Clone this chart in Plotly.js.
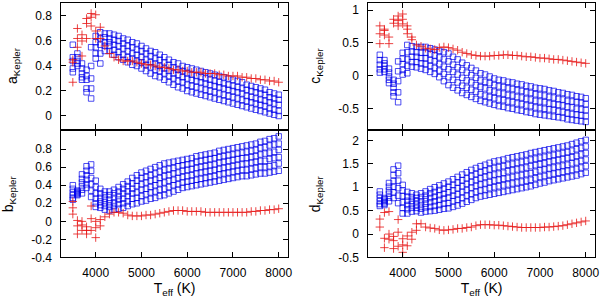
<!DOCTYPE html>
<html>
<head>
<meta charset="utf-8">
<script src="https://cdn.plot.ly/plotly-3.0.1.min.js"></script>
<style>html,body{margin:0;padding:0;background:#fff;}#chart{width:600px;height:298px;}</style>
</head>
<body>
<div id="chart"></div>
<script>
// Effective temperature grid (K)
const teff = [3500,3600,3700,3800,3900,4000,4100,4200,4300,4400,4500,4600,4700,4800,4900,5000,5100,5200,5300,5400,5500,5600,5700,5800,5900,6000,6100,6200,6300,6400,6500,6600,6700,6800,6900,7000,7100,7200,7300,7400,7500,7600,7700,7800,7900,8000];

// Blue squares: several model rows per coefficient (top to bottom)
const blueA = [
 [.57,.50,.42,.37,.55,.64,.67,.66,.66,.65,.64,.62,.61,.59,.58,.56,.54,.52,.51,.49,.47,.45,.43,.42,.40,.39,.38,.37,.36,.35,.34,.33,.32,.31,.30,.29,.28,.27,.25,.24,.23,.22,.21,.19,.18,.17],
 [.47,.47,.38,.32,.40,.59,.62,.63,.62,.61,.60,.58,.56,.55,.53,.52,.50,.48,.46,.45,.43,.41,.39,.37,.36,.34,.33,.32,.31,.30,.29,.28,.27,.26,.25,.24,.23,.22,.21,.20,.19,.18,.17,.15,.14,.13],
 [.44,.44,.34,.29,.30,.55,.57,.59,.59,.57,.56,.54,.52,.50,.49,.47,.45,.43,.42,.40,.38,.36,.34,.33,.31,.30,.29,.28,.27,.26,.25,.24,.23,.22,.21,.20,.19,.18,.16,.15,.14,.13,.12,.11,.10,.09],
 [.38,.42,.31,.22,.22,.50,.50,.56,.56,.53,.51,.49,.47,.46,.44,.43,.41,.39,.37,.36,.34,.32,.30,.28,.27,.25,.24,.23,.22,.21,.20,.19,.18,.17,.16,.15,.14,.13,.12,.11,.10,.09,.08,.06,.05,.04],
 [.35,.40,.29,.19,.14,.46,.42,.52,.52,.49,.47,.45,.43,.41,.40,.38,.36,.34,.32,.31,.29,.27,.25,.23,.22,.20,.19,.18,.17,.16,.15,.14,.13,.12,.11,.10,.09,.08,.07,.06,.05,.04,.03,.02,.01,.00]
];
const blueB = [
 [.40,.34,.52,.61,.63,.45,.36,.33,.33,.35,.38,.41,.44,.48,.51,.54,.56,.58,.60,.62,.64,.65,.66,.67,.68,.69,.70,.72,.73,.74,.75,.76,.78,.79,.80,.81,.82,.83,.84,.85,.86,.88,.89,.91,.92,.94],
 [.36,.33,.47,.56,.56,.38,.31,.29,.29,.31,.33,.36,.39,.42,.45,.48,.49,.51,.53,.55,.57,.58,.59,.61,.62,.63,.64,.66,.67,.68,.69,.70,.71,.72,.73,.74,.75,.76,.77,.78,.79,.81,.82,.84,.85,.86],
 [.32,.32,.43,.51,.48,.31,.26,.25,.24,.26,.28,.31,.33,.36,.39,.41,.43,.45,.46,.48,.50,.51,.53,.54,.56,.57,.58,.59,.60,.61,.62,.63,.65,.66,.67,.68,.69,.70,.70,.71,.72,.74,.75,.76,.77,.79],
 [.29,.31,.39,.46,.41,.25,.22,.21,.20,.21,.24,.25,.28,.31,.32,.35,.36,.38,.40,.42,.43,.45,.46,.48,.49,.50,.51,.53,.54,.55,.56,.57,.58,.59,.60,.61,.62,.63,.64,.65,.66,.67,.67,.69,.70,.71],
 [.26,.30,.35,.41,.34,.20,.18,.17,.16,.17,.19,.20,.22,.25,.26,.28,.30,.32,.33,.35,.36,.38,.40,.41,.43,.44,.45,.46,.47,.48,.49,.50,.52,.53,.54,.55,.56,.57,.57,.58,.59,.60,.60,.61,.62,.64],
 [.24,.29,.31,.37,.27,.16,.15,.13,.12,.13,.14,.15,.17,.19,.20,.22,.23,.25,.26,.28,.29,.31,.33,.35,.37,.38,.39,.40,.41,.42,.43,.44,.45,.46,.47,.48,.49,.50,.50,.51,.52,.53,.53,.54,.55,.56]
];
const blueC = [
 [.32,.24,.11,-.06,.22,.35,.47,.45,.44,.44,.44,.42,.40,.38,.36,.34,.29,.25,.20,.16,.12,.08,.04,.02,-.01,-.04,-.06,-.07,-.09,-.10,-.12,-.13,-.15,-.16,-.18,-.19,-.20,-.22,-.23,-.25,-.26,-.28,-.29,-.31,-.32,-.34],
 [.24,.19,.05,-.12,.07,.26,.36,.37,.36,.35,.35,.33,.31,.28,.25,.22,.17,.13,.09,.05,.01,-.03,-.07,-.09,-.11,-.14,-.16,-.17,-.19,-.20,-.22,-.23,-.25,-.26,-.28,-.29,-.30,-.32,-.33,-.35,-.36,-.38,-.39,-.40,-.41,-.43],
 [.17,.15,-.01,-.18,-.08,.18,.25,.29,.29,.27,.27,.24,.22,.18,.14,.10,.06,.02,-.03,-.07,-.10,-.14,-.17,-.19,-.22,-.24,-.26,-.27,-.29,-.30,-.32,-.33,-.35,-.36,-.38,-.39,-.40,-.42,-.43,-.44,-.45,-.47,-.48,-.50,-.51,-.52],
 [.10,.10,-.06,-.25,-.25,.09,.15,.21,.21,.19,.18,.15,.12,.08,.03,-.02,-.06,-.10,-.15,-.18,-.21,-.24,-.28,-.30,-.32,-.34,-.36,-.37,-.39,-.40,-.42,-.43,-.45,-.46,-.48,-.49,-.50,-.51,-.52,-.54,-.55,-.57,-.58,-.59,-.60,-.61],
 [.05,.06,-.11,-.31,-.40,.02,.04,.14,.13,.11,.09,.06,.03,-.02,-.08,-.14,-.18,-.22,-.26,-.29,-.32,-.35,-.38,-.40,-.42,-.44,-.46,-.47,-.49,-.50,-.52,-.53,-.55,-.56,-.58,-.59,-.60,-.61,-.62,-.63,-.64,-.66,-.67,-.68,-.69,-.70]
];
const blueD = [
 [.91,.77,1.09,1.38,1.46,1.05,.90,.87,.84,.87,.91,.96,1.00,1.04,1.08,1.12,1.17,1.22,1.27,1.32,1.37,1.41,1.45,1.48,1.52,1.55,1.57,1.59,1.62,1.64,1.66,1.68,1.70,1.73,1.75,1.77,1.79,1.81,1.83,1.85,1.87,1.89,1.92,1.95,1.98,2.01],
 [.84,.74,1.01,1.26,1.30,.93,.80,.79,.77,.79,.82,.87,.90,.94,.97,1.01,1.05,1.10,1.15,1.19,1.24,1.28,1.32,1.35,1.38,1.41,1.43,1.45,1.48,1.50,1.52,1.54,1.56,1.59,1.61,1.63,1.65,1.67,1.69,1.71,1.73,1.75,1.78,1.81,1.84,1.87],
 [.77,.71,.93,1.13,1.14,.81,.71,.71,.70,.70,.74,.77,.80,.83,.86,.89,.93,.98,1.02,1.07,1.11,1.15,1.19,1.22,1.25,1.27,1.29,1.31,1.34,1.36,1.38,1.40,1.42,1.45,1.47,1.49,1.51,1.54,1.56,1.58,1.60,1.62,1.64,1.67,1.70,1.73],
 [.70,.68,.86,1.01,.98,.68,.62,.64,.63,.62,.65,.68,.70,.73,.76,.78,.82,.85,.90,.94,.99,1.03,1.06,1.08,1.11,1.14,1.16,1.18,1.20,1.22,1.24,1.26,1.28,1.30,1.33,1.36,1.38,1.40,1.42,1.44,1.46,1.48,1.51,1.53,1.56,1.59],
 [.64,.65,.78,.89,.82,.56,.53,.56,.56,.54,.57,.58,.60,.62,.65,.66,.70,.73,.77,.82,.86,.90,.93,.95,.98,1.00,1.02,1.04,1.06,1.08,1.10,1.12,1.14,1.16,1.19,1.22,1.24,1.27,1.29,1.31,1.33,1.35,1.37,1.39,1.42,1.45],
 [.60,.62,.70,.77,.66,.44,.44,.48,.49,.46,.48,.49,.50,.52,.54,.55,.58,.61,.65,.69,.73,.77,.80,.82,.84,.86,.88,.90,.92,.94,.96,.98,1.00,1.02,1.05,1.08,1.10,1.13,1.15,1.17,1.19,1.21,1.23,1.25,1.28,1.31]
];

// Red crosses: main sequence per coefficient
const redA = [.43,.62,.60,.74,.79,.68,.62,.56,.50,.47,.45,.44,.44,.44,.43,.42,.41,.41,.40,.39,.39,.38,.37,.37,.36,.36,.35,.35,.35,.34,.34,.34,.33,.33,.32,.32,.32,.31,.31,.30,.30,.29,.29,.28,.28,.27];
const redB = [.15,-.05,.00,-.06,.17,-.07,.02,.05,.08,.10,.10,.09,.07,.06,.06,.06,.07,.07,.08,.09,.10,.11,.12,.12,.12,.11,.11,.11,.11,.10,.10,.10,.10,.10,.10,.10,.10,.10,.10,.11,.11,.12,.12,.13,.13,.14];
const redC = [.64,.71,.59,.86,.84,.94,.76,.59,.47,.45,.42,.41,.40,.43,.44,.43,.41,.39,.36,.34,.32,.31,.30,.30,.30,.31,.31,.32,.32,.31,.31,.30,.29,.29,.28,.27,.27,.26,.25,.25,.24,.23,.22,.21,.20,.19];
const redD = [.32,-.09,.00,-.14,.31,-.23,-.04,.04,.22,.22,.15,.13,.12,.09,.08,.09,.10,.12,.12,.14,.15,.18,.20,.20,.20,.19,.19,.18,.17,.16,.15,.14,.14,.14,.14,.14,.15,.15,.16,.17,.18,.20,.22,.24,.26,.28];

// Extra red crosses at cool temperatures
const redExtraTA = [3500,3500,3600,3600,3700,3700,3800,3800,3900,3900,4000,4000,4100];
const redExtraA  = [0.27,0.45,0.55,0.70,0.65,0.48,0.78,0.62,0.82,0.72,0.81,0.62,0.71];
const redExtraTB = [3500,3500,3600,3600,3700,3700,3800,3800,3900,3900,4000,4000,4100];
const redExtraB  = [0.08,0.22,0.01,-0.14,-0.10,-0.04,-0.14,-0.10,0.03,-0.10,0.00,-0.18,-0.05];
const redExtraTC = [3500,3500,3600,3600,3700,3800,3900,3900,4000,4000,4100,4100,4200];
const redExtraC  = [0.76,0.49,0.69,0.62,0.49,0.80,0.76,0.91,0.79,0.86,0.71,0.64,0.55];
const redExtraTD = [3500,3600,3600,3700,3700,3800,3800,3900,3900,4000,4000,4100,4200,4300];
const redExtraD  = [0.15,0.46,-0.29,0.48,-0.11,-0.31,-0.05,0.04,-0.26,-0.39,-0.10,-0.25,-0.11,0.08];

// Axis ticks
const xTickVals = [4000,5000,6000,7000,8000];
const xTickText = ['4000','5000','6000','7000','8000'];
const yTickValsA = [0,0.2,0.4,0.6,0.8];
const yTickTextA = ['0','0.2','0.4','0.6','0.8'];
const yTickValsB = [-0.4,-0.2,0,0.2,0.4,0.6,0.8];
const yTickTextB = ['-0.4','-0.2','0','0.2','0.4','0.6','0.8'];
const yTickValsC = [-0.5,0,0.5,1];
const yTickTextC = ['-0.5','0','0.5','1'];
const yTickValsD = [-0.5,0,0.5,1,1.5,2];
const yTickTextD = ['-0.5','0','0.5','1','1.5','2'];

function flatten(rows){
  const x=[], y=[];
  rows.forEach(r => r.forEach((v,i) => { x.push(teff[i]); y.push(v); }));
  return {x, y};
}
const blueCol = 'rgba(0,0,235,0.7)';
const redCol = 'rgba(230,20,20,0.8)';
const blueMarker = {symbol:'square-open', size:5.5, color:blueCol, line:{width:1, color:blueCol}};
const redMarker = {symbol:'cross-thin-open', size:6, color:redCol, line:{width:1, color:redCol}};

function panel(rows, red, extT, ext, xa, ya){
  const b = flatten(rows);
  return [
    {type:'scatter', mode:'markers', x:b.x, y:b.y, xaxis:xa, yaxis:ya, marker:blueMarker, showlegend:false, hoverinfo:'skip'},
    {type:'scatter', mode:'markers', x:teff.concat(extT), y:red.concat(ext), xaxis:xa, yaxis:ya, marker:redMarker, showlegend:false, hoverinfo:'skip'}
  ];
}

const data = [].concat(
  panel(blueA, redA, redExtraTA, redExtraA, 'x', 'y'),
  panel(blueC, redC, redExtraTC, redExtraC, 'x2', 'y2'),
  panel(blueB, redB, redExtraTB, redExtraB, 'x3', 'y3'),
  panel(blueD, redD, redExtraTD, redExtraD, 'x4', 'y4')
);

const font = {family:'Liberation Sans, Arial, sans-serif', size:12, color:'#000'};
const titleFont = {family:'Liberation Sans, Arial, sans-serif', size:14, color:'#000'};
const xL = [0.10233, 0.47975], xR = [0.614, 0.99142];
const yT = [0.56879, 0.98826], yB = [0.13591, 0.56040];

function xax(domain, anchor, labels){
  const ax = {domain, anchor, range:[3250,8200], tickvals:xTickVals, ticktext:xTickText, showticklabels:labels,
    ticks:'inside', ticklen:5, tickwidth:1, tickcolor:'#000', mirror:'ticks', showline:true, linecolor:'#000', linewidth:1,
    showgrid:false, zeroline:false, tickfont:font, ticklabelstandoff:4};
  if(labels) ax.title = {text:'T<sub>eff</sub> (K)', font:titleFont, standoff:4};
  return ax;
}
function yax(domain, anchor, range, vals, text, title){
  return {domain, anchor, range, tickvals:vals, ticktext:text,
    ticks:'inside', ticklen:5, tickwidth:1, tickcolor:'#000', mirror:'ticks', showline:true, linecolor:'#000', linewidth:1,
    showgrid:false, zeroline:false, tickfont:font, ticklabelstandoff:6,
    title:{text:title, font:titleFont, standoff:14}};
}

const layout = {
  width:600, height:298, margin:{l:0,r:0,t:0,b:0}, paper_bgcolor:'#fff', plot_bgcolor:'#fff',
  showlegend:false, font:font,
  xaxis:  xax(xL, 'y', false),
  yaxis:  yax(yT, 'x', [-0.1,0.9], yTickValsA, yTickTextA, 'a<sub>Kepler</sub>'),
  xaxis2: xax(xR, 'y2', false),
  yaxis2: yax(yT, 'x2', [-0.8,1.1], yTickValsC, yTickTextC, 'c<sub>Kepler</sub>'),
  xaxis3: xax(xL, 'y3', true),
  yaxis3: yax(yB, 'x3', [-0.4,1.0], yTickValsB, yTickTextB, 'b<sub>Kepler</sub>'),
  xaxis4: xax(xR, 'y4', true),
  yaxis4: yax(yB, 'x4', [-0.5,2.2], yTickValsD, yTickTextD, 'd<sub>Kepler</sub>')
};

Plotly.newPlot('chart', data, layout, {staticPlot:true, displayModeBar:false});
</script>
</body>
</html>
